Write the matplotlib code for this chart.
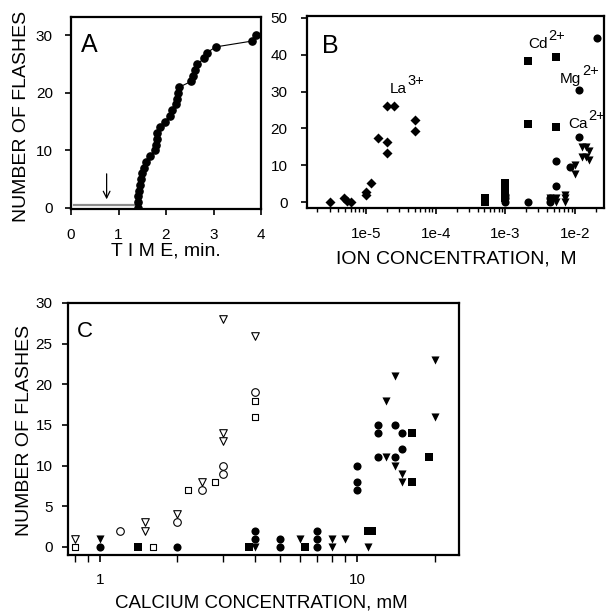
import matplotlib
matplotlib.use("Agg")
import matplotlib.pyplot as plt
from matplotlib.ticker import LogLocator, NullFormatter, FixedLocator, FixedFormatter

plt.rcParams["font.family"] = ["Liberation Sans", "DejaVu Sans"]

# ---- panel A : cumulative flashes vs time ----
a_time = [1.40, 1.41, 1.42, 1.43, 1.45, 1.47, 1.49, 1.53, 1.57, 1.66, 1.76,
          1.78, 1.80, 1.82, 1.88, 1.97, 2.08, 2.13, 2.20, 2.23, 2.25, 2.28,
          2.53, 2.57, 2.60, 2.66, 2.80, 2.86, 3.05, 3.80, 3.90]
a_flashes = list(range(31))
a_base_x = [0.07, 1.40]
a_base_y = [0.45, 0.45]
a_arrow_x = 0.75

# ---- panel B : flashes vs ion concentration (M) ----
la_conc = [3e-6, 4.8e-6, 5.4e-6, 6e-6, 1e-5, 1e-5, 1.18e-5, 1.5e-5, 2e-5, 2e-5,
           2e-5, 2.5e-5, 5.1e-5, 5e-5]
la_fl = [0, 1.2, 0.3, 0, 1.8, 2.8, 5.2, 17.3, 16.4, 13.4, 26.2, 26.2, 22.4, 19.4]

cd_conc = [5.1e-4, 5.1e-4, 1e-3, 1e-3, 1e-3, 1e-3, 2.15e-3, 2.15e-3, 5.4e-3, 5.4e-3]
cd_fl = [0, 1, 5.3, 3, 2, 1, 38.4, 21.2, 39.3, 20.5]

mg_conc = [1e-3, 1e-3, 1e-3, 2.1e-3, 4.4e-3, 4.4e-3, 5.4e-3, 5.4e-3, 8.4e-3,
           1.14e-2, 1.14e-2, 2.09e-2]
mg_fl = [0, 1, 2, 0, 0, 1, 11.2, 4.3, 9.4, 30.5, 17.6, 44.6]

ca_conc = [4.4e-3, 4.6e-3, 5.4e-3, 5.4e-3, 7.2e-3, 7.2e-3, 7.2e-3, 1.0e-2, 1.0e-2,
           1.25e-2, 1.45e-2, 1.6e-2, 1.25e-2, 1.45e-2, 1.6e-2]
ca_fl = [1, 0.3, 0, 1, 0, 1, 2, 10, 7.5, 15, 15, 14, 12.3, 12.3, 11.5]

# ion labels in panel B: (name, charge, x, y)
ion_labels = [("La", "3+", 2.2e-5, 29.6), ("Cd", "2+", 2.14e-3, 41.9),
              ("Mg", "2+", 6.1e-3, 32.4), ("Ca", "2+", 8.0e-3, 20.1)]

# ---- panel C : flashes vs calcium concentration (mM) ----
otri_x = [0.8, 1.5, 1.5, 2.0, 2.5, 3.0, 3.0, 3.0, 4.0]
otri_y = [1, 3, 2, 4, 8, 28, 14, 13, 26]
ocirc_x = [1.2, 2.0, 2.5, 3.0, 3.0, 4.0]
ocirc_y = [2, 3, 7, 10, 9, 19]
osq_x = [0.8, 1.6, 2.2, 2.8, 4.0, 4.0]
osq_y = [0, 0, 7, 8, 18, 16]

ftri_x = [1.0, 4.0, 6.0, 8.0, 8.0, 9.0, 11.0, 13.0, 14.0, 13.0, 14.0, 15.0, 15.0, 20.0, 20.0]
ftri_y = [1, 0, 1, 1, 0, 1, 0, 18, 21, 11, 10, 9, 8, 23, 16]
fcirc_x = [1.0, 2.0, 4.0, 4.0, 5.0, 5.0, 7.0, 7.0, 7.0, 10.0, 10.0, 10.0,
           12.0, 12.0, 12.0, 14.0, 14.0, 15.0, 15.0]
fcirc_y = [0, 0, 2, 1, 1, 0, 2, 1, 0, 10, 8, 7, 15, 14, 11, 15, 11, 14, 12]
fsq_x = [1.4, 3.8, 6.25, 11.0, 11.4, 16.3, 16.3, 19.0]
fsq_y = [0, 0, 0, 2, 2, 14, 8, 11]

W, H = 609, 613
fig = plt.figure(figsize=(W / 100, H / 100), dpi=100)


def box(l, t, r, b):
    return [l / W, 1 - b / H, (r - l) / W, (b - t) / H]


def style(ax, xpad, ypad):
    for s in ax.spines.values():
        s.set_linewidth(1.6)
    ax.tick_params(which="major", direction="out", length=4, width=1.2,
                   labelsize=11, pad=xpad, axis="x")
    ax.tick_params(which="major", direction="out", length=4, width=1.2,
                   labelsize=11, pad=ypad, axis="y")
    ax.tick_params(which="minor", direction="out", length=3, width=1.0)


# panel A
axA = fig.add_axes(box(71, 17, 261, 209))
axA.plot(a_base_x, a_base_y, color="0.55", lw=1.6)
axA.plot(a_time, a_flashes, "-o", color="black", lw=0.8, ms=5.2)
axA.annotate("", xy=(a_arrow_x, 1.0), xytext=(a_arrow_x, 6.4),
             arrowprops=dict(arrowstyle="->", color="black", lw=0.9,
                             mutation_scale=12))
axA.set_xlim(0, 4)
axA.set_ylim(-0.2, 33.2)
axA.set_xticks([0, 1, 2, 3, 4])
axA.set_yticks([0, 10, 20, 30])
style(axA, 10, 9)
axA.text(0.055, 0.915, "A", transform=axA.transAxes, fontsize=18,
         ha="left", va="top")

# panel B
axB = fig.add_axes(box(307, 16, 604, 208))
axB.scatter(la_conc, la_fl, marker="D", s=26, color="black", lw=0)
axB.scatter(cd_conc, cd_fl, marker="s", s=26, color="black", lw=0)
axB.scatter(mg_conc, mg_fl, marker="o", s=34, color="black", lw=0)
axB.scatter(ca_conc, ca_fl, marker="v", s=34, color="black", lw=0)
axB.set_xscale("log")
axB.set_xlim(1.42e-6, 2.62e-2)
axB.set_ylim(-1.6, 50.5)
axB.xaxis.set_major_locator(FixedLocator([1e-5, 1e-4, 1e-3, 1e-2]))
axB.xaxis.set_major_formatter(FixedFormatter(["1e-5", "1e-4", "1e-3", "1e-2"]))
axB.xaxis.set_minor_locator(LogLocator(base=10, subs=range(2, 10), numticks=20))
axB.xaxis.set_minor_formatter(NullFormatter())
axB.set_yticks([0, 10, 20, 30, 40, 50])
style(axB, 10, 10)
axB.text(0.05, 0.905, "B", transform=axB.transAxes, fontsize=18,
         ha="left", va="top")
for name, charge, lx, ly in ion_labels:
    t = axB.text(lx, ly, name, fontsize=11, ha="left", va="baseline")
    axB.annotate(charge, xy=(1, 0), xycoords=t, xytext=(0.5, 5.5),
                 textcoords="offset points", fontsize=10.5,
                 ha="left", va="bottom")

# panel C
axC = fig.add_axes(box(68, 303, 459, 555))
axC.scatter(otri_x, otri_y, marker="v", s=30, facecolor="white",
            edgecolor="black", lw=0.8)
axC.scatter(ocirc_x, ocirc_y, marker="o", s=30, facecolor="white",
            edgecolor="black", lw=0.8)
axC.scatter(osq_x, osq_y, marker="s", s=24, facecolor="white",
            edgecolor="black", lw=0.8)
axC.scatter(ftri_x, ftri_y, marker="v", s=34, color="black", lw=0)
axC.scatter(fcirc_x, fcirc_y, marker="o", s=34, color="black", lw=0)
axC.scatter(fsq_x, fsq_y, marker="s", s=26, color="black", lw=0)
axC.set_xscale("log")
axC.set_xlim(0.75, 24.9)
axC.set_ylim(-1, 30)
axC.xaxis.set_major_locator(FixedLocator([1, 10]))
axC.xaxis.set_major_formatter(FixedFormatter(["1", "10"]))
axC.xaxis.set_minor_locator(LogLocator(base=10, subs=range(2, 10), numticks=20))
axC.xaxis.set_minor_formatter(NullFormatter())
axC.set_yticks([0, 5, 10, 15, 20, 25, 30])
style(axC, 8, 7)
axC.tick_params(which="both", axis="x", length=5)
axC.text(0.022, 0.93, "C", transform=axC.transAxes, fontsize=16,
         ha="left", va="top")

# axis labels
fig.text(22 / W, 1 - 116 / H, "NUMBER OF FLASHES", rotation=90,
         ha="center", va="center", fontsize=14)
fig.text(166 / W, 1 - 255 / H, "T I M E, min.", ha="center", va="baseline",
         fontsize=14)
fig.text(456 / W, 1 - 263 / H, "ION CONCENTRATION,  M", ha="center",
         va="baseline", fontsize=14)
fig.text(25 / W, 1 - 430 / H, "NUMBER OF FLASHES", rotation=90,
         ha="center", va="center", fontsize=14)
fig.text(261 / W, 1 - 607 / H, "CALCIUM CONCENTRATION, mM", ha="center",
         va="baseline", fontsize=13.5)

fig.savefig("out.png", dpi=100)
